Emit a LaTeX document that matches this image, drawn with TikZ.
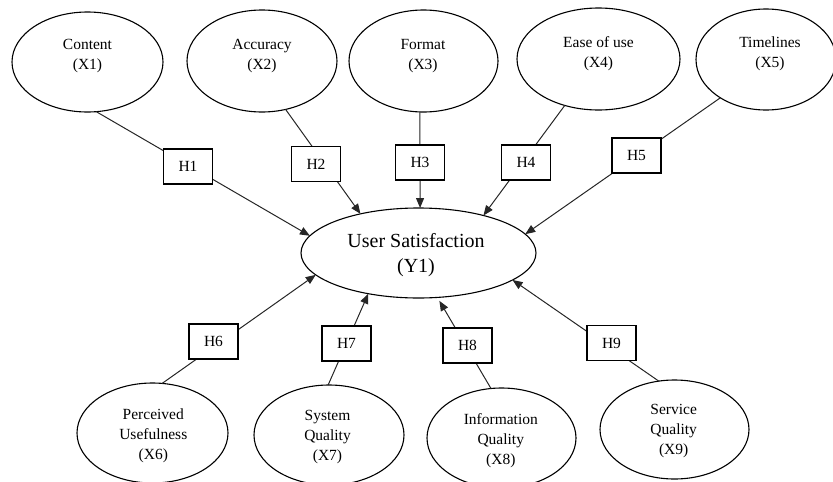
\documentclass[tikz,border=0pt]{standalone}
\usepackage{fontspec}
\setmainfont{Liberation Serif}
\usetikzlibrary{shapes.geometric,arrows.meta}
\begin{document}
\begin{tikzpicture}[x=1pt,y=-1pt,
  ell/.style={ellipse,draw=black,line width=1.1pt,inner sep=0pt,outer sep=0pt},
  lab/.style={align=center,font=\fontsize{15.5}{20}\selectfont,inner sep=0pt},
  biglab/.style={align=center,font=\fontsize{20}{25}\selectfont,inner sep=0pt},
  hbox/.style={rectangle,draw=black,line width=1.1pt,fill=white,minimum width=49pt,minimum height=35pt,inner sep=0pt,font=\fontsize{15.5}{20}\selectfont},
  con/.style={line width=1pt,draw=black!85},
  arr/.style={con,-{Triangle[length=10pt,width=8pt]}}]
\useasboundingbox (0,0) rectangle (833,482);
% ellipses
\node[ell,minimum width=151pt,minimum height=100pt] (X1) at (87.5,62) {};
\node[ell,minimum width=150pt,minimum height=102pt] (X2) at (262,61) {};
\node[ell,minimum width=149pt,minimum height=102pt] (X3) at (423.5,61) {};
\node[ell,minimum width=163pt,minimum height=102pt] (X4) at (598.5,59) {};
\node[ell,minimum width=140pt,minimum height=101pt] (X5) at (766,59.5) {};
\node[ell,minimum width=235pt,minimum height=90pt] (Y) at (418.5,253) {};
\node[ell,minimum width=151pt,minimum height=100pt] (X6) at (152.5,433) {};
\node[ell,minimum width=150pt,minimum height=100pt] (X7) at (329,435) {};
\node[ell,minimum width=149pt,minimum height=100pt] (X8) at (501.5,438) {};
\node[ell,minimum width=149pt,minimum height=99pt] (X9) at (674.5,429.5) {};
% texts
\node[lab] (X1t) at (87.5,56.5) {Content\\(X1)};
\node[lab] (X2t) at (262,56) {Accuracy\\(X2)};
\node[lab] (X3t) at (423,56.5) {Format\\(X3)};
\node[lab] (X4t) at (598.5,54) {Ease of use\\(X4)};
\node[lab] (X5t) at (770,54) {Timelines\\(X5)};
\node[biglab] (Yt) at (416,255) {User Satisfaction\\(Y1)};
\node[lab] (X6t) at (153.3,435.5) {Perceived\\Usefulness\\(X6)};
\node[lab] (X7t) at (327.5,437) {System\\Quality\\(X7)};
\node[lab] (X8t) at (500.8,440.3) {Information\\Quality\\(X8)};
\node[lab] (X9t) at (673.7,431) {Service\\Quality\\(X9)};
% connectors
\draw[arr] (X1.-80) -- (Y.171);
\draw[arr] (X2.-64) -- (Y.146);
\draw[arr] (X3.-94) -- (Y.88);
\draw[arr] (X4.-126) -- (Y.30);
\draw[arr] (X5.-140) -- (Y.10);
\draw[arr] (X6.79) -- (Y.192);
\draw[arr] (X7.91) -- (Y.219);
\draw[arr,shorten >=4pt] (X8.102) -- (Y.-67);
\draw[arr] (X9.108) -- (Y.-16);
% hypothesis boxes
\node[hbox] (H1) at (188,166.5) {H1};
\node[hbox] (H2) at (316,164) {H2};
\node[hbox] (H3) at (420,162.5) {H3};
\node[hbox] (H4) at (526,162.5) {H4};
\node[hbox] (H5) at (636.5,155.5) {H5};
\node[hbox] (H6) at (213.5,341.5) {H6};
\node[hbox] (H7) at (346.5,343.5) {H7};
\node[hbox] (H8) at (467.5,345.5) {H8};
\node[hbox] (H9) at (611.5,343) {H9};
\end{tikzpicture}
\end{document}
